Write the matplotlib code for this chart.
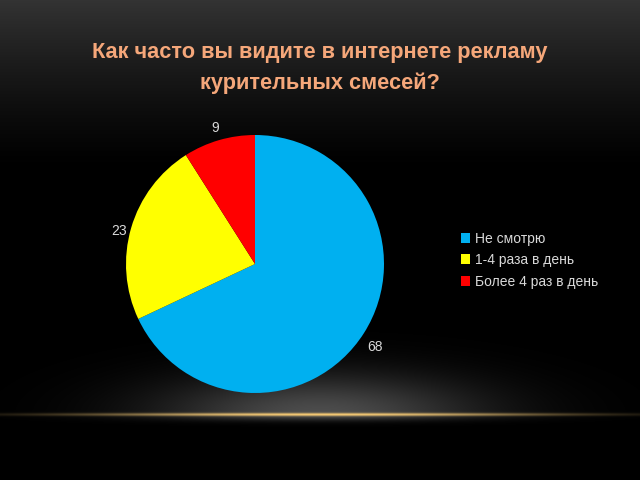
import numpy as np
import matplotlib
matplotlib.use("Agg")
import matplotlib.pyplot as plt
from matplotlib.patches import Patch

plt.rcParams["font.family"] = ["Liberation Sans Narrow", "Liberation Sans", "DejaVu Sans"]

# data
categories = ["Не смотрю", "1-4 раза в день", "Более 4 раз в день"]
values = [68, 23, 9]
colors = ["#00B0F0", "#FFFF00", "#FF0000"]
title = "Как часто вы видите в интернете рекламу\nкурительных смесей?"

W, H = 640, 480
fig = plt.figure(figsize=(6.4, 4.8), dpi=100)

# ---------------------------
# background: dark top gradient, glow and gold line
# ---------------------------
yy, xx = np.mgrid[0:H, 0:W].astype(float)
top = np.clip(1 - yy / 170, 0, 1) ** 1.3 * 0.2
glow = np.exp(-((xx - 320) / 160) ** 2 - ((yy - 414) / 40) ** 2) * 0.3
glow[yy > 414] *= np.exp(-((yy[yy > 414] - 414) / 6) ** 2)
base = np.clip(top + glow, 0, 1)
img = np.dstack([base, base, base])
line = np.exp(-((yy - 414) / 1.6) ** 2) * np.exp(-((xx - 320) / 220) ** 2)
gold = np.array([0.95, 0.78, 0.45])
img = img * (1 - line[..., None]) + gold * line[..., None]
bg = fig.add_axes([0, 0, 1, 1])
bg.imshow(img, extent=[0, W, H, 0], aspect="auto")
bg.set_xlim(0, W)
bg.set_ylim(H, 0)
bg.axis("off")

fig.text(0.5, 1 - 68 / H, title, ha="center", va="center", color="#F5A77A",
         fontsize=15.7, fontweight="bold", linespacing=1.6)

# ---------------------------
# pie
# ---------------------------
cx, cy, r = 255, 264, 129
ax = fig.add_axes([(cx - r) / W, 1 - (cy + r) / H, 2 * r / W, 2 * r / H])
wedges, texts = ax.pie(values, colors=colors, startangle=90, counterclock=False,
                       labels=[str(v) for v in values], labeldistance=1.1,
                       textprops=dict(color="#D9D9D9", fontsize=10),
                       wedgeprops=dict(linewidth=0))
for t in texts:
    t.set_ha("center")
    t.set_va("top" if t.get_position()[0] != 0 and abs(t.get_position()[1]) < 0.9 else "center")
ax.set_xlim(-1, 1)
ax.set_ylim(-1, 1)
ax.set_aspect("equal")

handles = [Patch(facecolor=c, edgecolor="none") for c in colors]
fig.legend(handles, categories, loc="upper left",
           bbox_to_anchor=(448 / W, 1 - 219 / H), frameon=False,
           labelcolor="#D9D9D9", fontsize=10, handlelength=0.7,
           handleheight=0.7, handletextpad=0.35, labelspacing=0.55)

fig.savefig("out.png", dpi=100, facecolor="black")
